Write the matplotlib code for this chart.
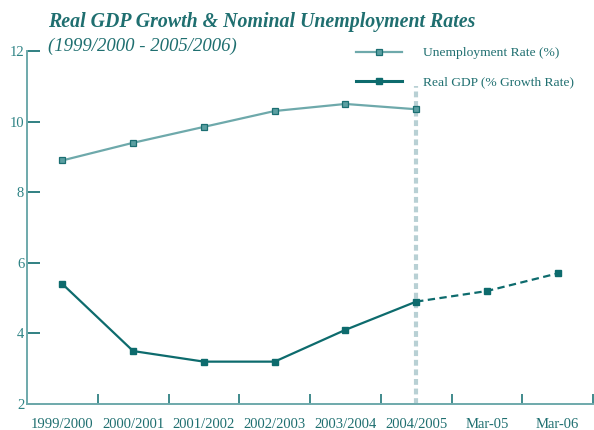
import matplotlib.pyplot as plt
from matplotlib.lines import Line2D

# Series values, one per period on the category axis
periods = ['1999/2000', '2000/2001', '2001/2002', '2002/2003',
           '2003/2004', '2004/2005', 'Mar-05', 'Mar-06']
unemployment = [8.9, 9.4, 9.85, 10.3, 10.5, 10.35]
gdp_actual = [5.4, 3.5, 3.2, 3.2, 4.1, 4.9]
gdp_projected = [4.9, 5.2, 5.7]

title = 'Real GDP Growth & Nominal Unemployment Rates'
subtitle = '(1999/2000 - 2005/2006)'

LIGHT = '#6ea9ab'
DARK = '#0d6b6d'
DIVIDER = '#b8d0d4'
TEXT = '#1f6f70'

plt.rcParams['font.family'] = ['Liberation Serif', 'DejaVu Serif']

fig = plt.figure(figsize=(5.94, 4.30), dpi=100)
ax = fig.add_axes([27 / 594, 26 / 430, 566 / 594, 353 / 430])

x = list(range(len(periods)))
n_hist = len(gdp_actual)

# boundary between actual and projected figures
ax.plot([n_hist - 1, n_hist - 1], [2, 11], color=DIVIDER, linewidth=3,
        dashes=(1.4, 0.9), zorder=1)

ax.plot(x[:len(unemployment)], unemployment, color=LIGHT, linewidth=1.6,
        marker='s', markersize=5, markerfacecolor='#5b9fa1',
        markeredgecolor='#1b6f72', markeredgewidth=0.9, zorder=3)
ax.plot(x[:n_hist], gdp_actual, color=DARK, linewidth=1.6,
        marker='s', markersize=5, markerfacecolor=DARK, markeredgecolor=DARK, zorder=3)
ax.plot(x[n_hist - 1:], gdp_projected, color=DARK, linewidth=1.6, dashes=(3.3, 2.0),
        marker='s', markersize=5, markerfacecolor=DARK, markeredgecolor=DARK,
        markevery=[1, 2], zorder=3)

ax.set_xlim(-0.5, len(periods) - 0.5)
ax.set_ylim(2, 12)

for side in ['top', 'right']:
    ax.spines[side].set_visible(False)
ax.spines['left'].set_color(LIGHT)
ax.spines['bottom'].set_color(LIGHT)
ax.spines['left'].set_linewidth(1.4)
ax.spines['bottom'].set_linewidth(1.4)

ax.set_yticks(range(2, 13, 2))
ax.tick_params(axis='y', direction='in', length=9.5, width=1.2, color=DARK,
               pad=2, labelsize=10.5, labelcolor='#2e8385')

# category labels sit between the boundary ticks
ax.set_xticks(x)
ax.set_xticklabels(periods)
ax.set_xticks([i + 0.5 for i in x], minor=True)
ax.tick_params(axis='x', which='major', length=0, pad=10, labelsize=10.5, labelcolor=TEXT)
ax.tick_params(axis='x', which='minor', direction='in', length=7, width=1.1, color=DARK)

fig.text(48 / 594, 1 - 22 / 430, title, fontsize=14.3, fontweight='bold',
         fontstyle='italic', color=TEXT, va='center', ha='left')
fig.text(48 / 594, 1 - 46 / 430, subtitle, fontsize=13.5, fontstyle='italic',
         color=TEXT, va='center', ha='left')

handles = [
    Line2D([], [], color=LIGHT, linewidth=1.6, marker='s', markersize=5,
           markerfacecolor='#5b9fa1', markeredgecolor='#1b6f72', markeredgewidth=0.9),
    Line2D([], [], color=DARK, linewidth=2.2, marker='s', markersize=5,
           markerfacecolor=DARK, markeredgecolor=DARK),
]
leg = fig.legend(handles, ['Unemployment Rate (%)', 'Real GDP (% Growth Rate)'],
                 loc='upper left', bbox_to_anchor=(356 / 594, 1 - 47 / 430),
                 frameon=False, fontsize=9.7, handlelength=3.4, handletextpad=1.6,
                 labelspacing=1.25, borderpad=0, borderaxespad=0)
for t in leg.get_texts():
    t.set_color(TEXT)

fig.savefig('out.png', dpi=100)
